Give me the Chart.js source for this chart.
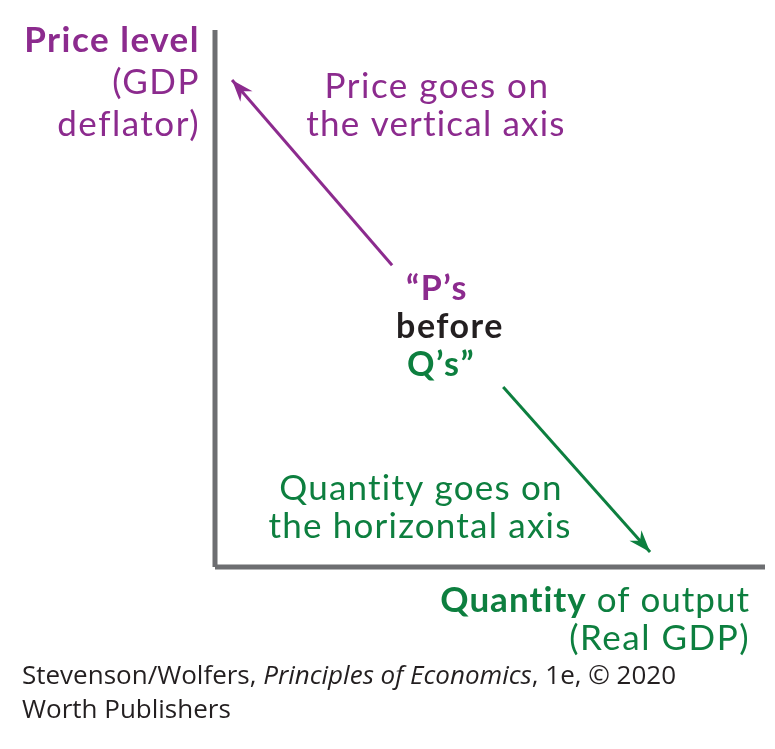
<!DOCTYPE html>
<html>
<head>
<meta charset="utf-8">
<script src="https://cdn.jsdelivr.net/npm/chart.js@4"></script>
<style>
html,body{margin:0;padding:0;background:#fff;}
#wrap{width:775px;height:749px;position:relative;}
</style>
</head>
<body>
<div id="wrap"><canvas id="c"></canvas></div>
<script>
// ---- data (schematic, in 0..100 units) ----
const verticalAxis   = [{x:0,y:0},{x:0,y:100}];
const horizontalAxis = [{x:0,y:0},{x:100,y:0}];
const priceArrow     = [{x:32.2,y:56.2},{x:3.1,y:90.7}];
const quantityArrow  = [{x:52.4,y:33.5},{x:79.1,y:2.8}];

const PURPLE = '#8c2b8e';
const GREEN  = '#0d7f3f';
const GRAY   = '#6d6e71';
const HAND   = 'Lato';

const labels = [
  {x:200,y:52,align:'right',parts:[{t:'Price level',w:'bold',c:PURPLE}],size:35,ls:1.5},
  {x:200,y:94,align:'right',parts:[{t:'(GDP',w:'normal',c:PURPLE}],size:35,ls:1.5},
  {x:200,y:136,align:'right',parts:[{t:'deflator)',w:'normal',c:PURPLE}],size:35,ls:1.5},
  {x:437,y:98,align:'center',parts:[{t:'Price goes on',w:'normal',c:PURPLE}],size:35,ls:1.5},
  {x:436,y:136,align:'center',parts:[{t:'the vertical axis',w:'normal',c:PURPLE}],size:35,ls:1.2},
  {x:437,y:300,align:'center',parts:[{t:'\u201CP\u2019s',w:'bold',c:PURPLE}],size:34,ls:1.5},
  {x:450,y:338,align:'center',parts:[{t:'before',w:'bold',c:'#231f20'}],size:34,ls:1.5},
  {x:441,y:376,align:'center',parts:[{t:'Q\u2019s\u201D',w:'bold',c:GREEN}],size:34,ls:1.5},
  {x:421,y:500,align:'center',parts:[{t:'Quantity goes on',w:'normal',c:GREEN}],size:35,ls:1.2},
  {x:420,y:538,align:'center',parts:[{t:'the horizontal axis',w:'normal',c:GREEN}],size:35,ls:1.2},
  {x:750,y:612,align:'right',parts:[{t:'Quantity',w:'bold',c:GREEN},{t:' of output',w:'normal',c:GREEN}],size:35,ls:1},
  {x:750,y:650,align:'right',parts:[{t:'(Real GDP)',w:'normal',c:GREEN}],size:35,ls:1.5}
];
const credits = [
  {x:22,y:684,parts:[{t:'Stevenson/Wolfers, ',s:'normal'},{t:'Principles of Economics',s:'italic'},{t:', 1e, \u00A9 2020',s:'normal'}]},
  {x:22,y:718,parts:[{t:'Worth Publishers',s:'normal'}]}
];

function drawParts(ctx, item, fontFn, ls){
  ctx.letterSpacing = (ls||0)+'px';
  let total = 0;
  const widths = item.parts.map(p=>{ctx.font = fontFn(p); const w = ctx.measureText(p.t).width; total += w; return w;});
  let x = item.x;
  if (item.align === 'right') x -= total;
  else if (item.align === 'center') x -= total/2;
  item.parts.forEach((p,i)=>{
    ctx.font = fontFn(p);
    ctx.fillStyle = p.c || '#231f20';
    ctx.textAlign = 'left';
    ctx.textBaseline = 'alphabetic';
    ctx.fillText(p.t, x, item.y);
    x += widths[i];
  });
  ctx.letterSpacing = '0px';
}

const textPlugin = {
  id:'texts',
  afterDraw(chart){
    const ctx = chart.ctx;
    ctx.save();
    labels.forEach(l=>drawParts(ctx,l,p=>p.w+' '+l.size+'px '+HAND,l.ls));
    credits.forEach(l=>drawParts(ctx,l,p=>p.s+' 26px "Open Sans"',0));
    ctx.restore();
  }
};

const arrowPlugin = {
  id:'arrowheads',
  afterDatasetsDraw(chart){
    const ctx = chart.ctx;
    chart.data.datasets.forEach((ds,i)=>{
      if(!ds.arrow) return;
      const pts = chart.getDatasetMeta(i).data;
      const a = pts[pts.length-2], b = pts[pts.length-1];
      const ang = Math.atan2(b.y-a.y, b.x-a.x);
      const L = 22, W = 8, back = 15;
      ctx.save();
      ctx.translate(b.x,b.y);
      ctx.rotate(ang);
      ctx.fillStyle = ds.borderColor;
      ctx.beginPath();
      ctx.moveTo(0,0);
      ctx.lineTo(-L,-W);
      ctx.lineTo(-back,0);
      ctx.lineTo(-L,W);
      ctx.closePath();
      ctx.fill();
      ctx.restore();
    });
  }
};

function lineDs(data,color,width,arrow){
  return {data, borderColor:color, backgroundColor:color, borderWidth:width,
    pointRadius:0, showLine:true, fill:false, tension:0, arrow, borderCapStyle:'butt'};
}

new Chart(document.getElementById('c'),{
  type:'scatter',
  data:{datasets:[
    lineDs(verticalAxis,GRAY,5,false),
    lineDs(horizontalAxis,GRAY,5,false),
    lineDs(priceArrow,PURPLE,3,true),
    lineDs(quantityArrow,GREEN,3,true)
  ]},
  options:{
    responsive:true, maintainAspectRatio:false, animation:false,
    layout:{padding:{left:215,right:10,top:30,bottom:182}},
    plugins:{legend:{display:false},tooltip:{enabled:false}},
    scales:{
      x:{type:'linear',min:0,max:100,display:false},
      y:{type:'linear',min:0,max:100,display:false}
    },
    clip:false
  },
  plugins:[arrowPlugin,textPlugin]
});
</script>
</body>
</html>
